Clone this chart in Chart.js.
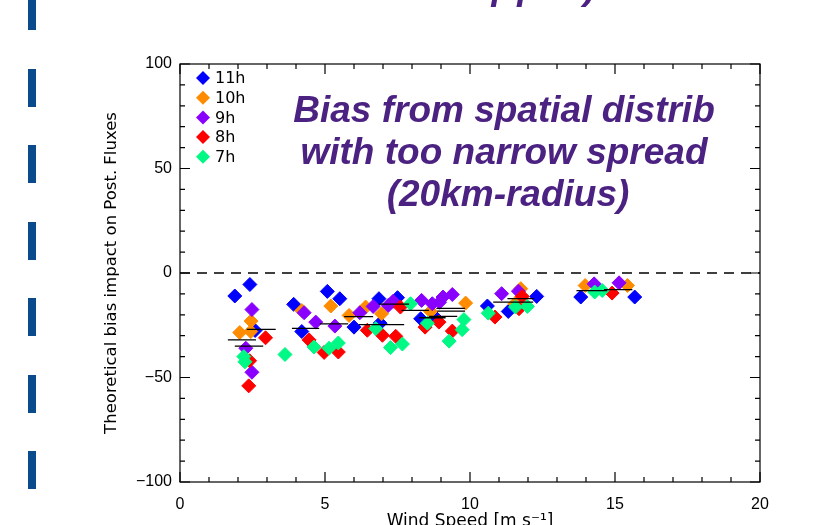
<!DOCTYPE html>
<html lang="en">
<head>
  <meta charset="UTF-8" />
  <title>Bias vs wind speed</title>
  <script src="https://cdn.jsdelivr.net/npm/chart.js"></script>
  <style>
    html, body { margin: 0; padding: 0; background: #fff; overflow: hidden; height: 525px; }
    #wrap { position: relative; width: 828px; height: 545px; }
    .bar { position: absolute; left: 28px; width: 8px; height: 38px; background: #0b4a8c; }
  </style>
</head>
<body>
  <div id="wrap">
    <canvas id="biasChart" width="828" height="545"></canvas>
  </div>

  <script>
    // hours of the day, one series each
    const seriesNames = ['11h', '10h', '9h', '8h', '7h'];
    const seriesColors = ['#0000ff', '#ff8c00', '#8a00ff', '#ff0000', '#00f884'];

    const x11 = [1.89, 2.41, 2.59, 3.92, 4.20, 5.08, 5.51, 6.00, 6.86, 6.90, 7.50, 8.30, 8.79, 10.60, 11.32, 12.30, 13.82, 15.68];
    const y11 = [-11, -5.5, -27.5, -15, -28, -8.8, -12.3, -25.9, -12.3, -24, -11.8, -21.9, -21, -15.8, -18.4, -11.2, -11.5, -11.5];

    const x10 = [2.06, 2.44, 2.45, 4.20, 5.20, 5.83, 6.40, 6.95, 8.64, 9.85, 11.55, 11.75, 13.97, 15.43];
    const y10 = [-28.5, -28, -23, -18, -15.8, -20.3, -16.3, -19.5, -18.4, -14.4, -14.7, -7.5, -6, -6];

    const x9 = [2.27, 2.48, 2.48, 4.28, 4.68, 5.34, 6.20, 6.66, 7.18, 7.35, 8.33, 8.70, 8.95, 9.07, 9.39, 11.09, 11.67, 14.28, 15.14];
    const y9 = [-36, -17.5, -47.5, -19, -23.5, -25.4, -19, -16, -15.5, -13.5, -13.1, -14.7, -14, -11.5, -10.3, -9.9, -8.7, -5.2, -4.7];

    const x8 = [2.37, 2.40, 2.95, 4.45, 4.97, 5.46, 6.46, 6.98, 7.44, 7.60, 8.45, 8.93, 9.39, 10.86, 11.69, 11.80, 14.90];
    const y8 = [-54, -42, -31, -32, -38, -37.8, -27.4, -29.8, -30.3, -16.3, -25.9, -23.5, -27.8, -21.1, -17.1, -11.2, -9.6];

    const x7 = [2.20, 2.24, 3.62, 4.62, 5.14, 5.46, 6.75, 7.26, 7.67, 7.95, 8.53, 9.28, 9.73, 9.79, 10.63, 11.57, 11.98, 14.30, 14.56];
    const y7 = [-40, -42.5, -39, -35.4, -36, -33.5, -26.6, -35.7, -34, -14.7, -24, -32.6, -27.1, -22.3, -19.2, -16.3, -16, -9.1, -8.4];

    // bin means (black horizontal bars)
    const meanX0 = [1.65, 1.89, 2.30, 3.86, 4.82, 5.66, 6.17, 6.86, 7.64, 8.24, 8.59, 8.84, 8.87, 10.80, 11.29, 13.67, 14.62];
    const meanX1 = [2.62, 2.87, 3.30, 4.80, 5.80, 6.66, 7.73, 7.90, 8.59, 9.16, 9.56, 9.83, 9.83, 12.18, 12.20, 14.73, 15.60];
    const meanY  = [-32, -35, -27, -26.5, -24.3, -20.9, -24.7, -14.9, -17.9, -21.4, -20.8, -16.9, -18.2, -13.9, -12.3, -8.4, -8];

    const xTicks = [0, 5, 10, 15, 20];
    const yTicks = [-100, -50, 0, 50, 100];

    const seriesX = [x11, x10, x9, x8, x7];
    const seriesY = [y11, y10, y9, y8, y7];

    const FONT = '"Liberation Sans", Arial, sans-serif';
    const WIDE = '"DejaVu Sans", sans-serif';

    // left slide decoration
    const wrap = document.getElementById('wrap');
    for (let i = 0; i < 7; i++) {
      const d = document.createElement('div');
      d.className = 'bar';
      d.style.top = (i * 76.5 - 8) + 'px';
      wrap.appendChild(d);
    }

    const pts = (xs, ys) => xs.map((x, i) => ({ x: x, y: ys[i] }));

    const meanPts = [];
    meanY.forEach((m, i) => {
      meanPts.push({ x: meanX0[i], y: m }, { x: meanX1[i], y: m }, { x: meanX1[i], y: null });
    });

    const datasets = [];
    datasets.push({
      type: 'line', label: 'means', data: meanPts, borderColor: '#000', borderWidth: 1.3,
      pointRadius: 0, spanGaps: false, order: 0
    });
    datasets.push({
      type: 'line', label: 'zero', data: [{ x: 0, y: 0 }, { x: 20, y: 0 }], borderColor: '#000',
      borderWidth: 1.4, borderDash: [10, 7], pointRadius: 0, order: 0
    });
    seriesNames.forEach((name, i) => {
      datasets.push({
        type: 'scatter', label: name, data: pts(seriesX[i], seriesY[i]),
        backgroundColor: seriesColors[i], borderColor: seriesColors[i], borderWidth: 1,
        pointStyle: 'rectRot', pointRadius: 7, order: 5 - i
      });
    });

    // frame, inward ticks, legend and annotation
    const decor = {
      id: 'decor',
      afterDraw(chart) {
        const { ctx, chartArea: a, scales } = chart;
        const xs = scales.x, ys = scales.y;
        ctx.save();
        ctx.strokeStyle = '#000';
        ctx.lineWidth = 1.2;
        ctx.strokeRect(a.left, a.top, a.right - a.left, a.bottom - a.top);
        ctx.beginPath();
        for (let v = 0; v <= 20; v++) {
          const len = xTicks.includes(v) ? 10 : 5;
          const px = xs.getPixelForValue(v);
          ctx.moveTo(px, a.bottom); ctx.lineTo(px, a.bottom - len);
          ctx.moveTo(px, a.top); ctx.lineTo(px, a.top + len);
        }
        for (let v = -100; v <= 100; v += 10) {
          const len = yTicks.includes(v) ? 10 : 5;
          const py = ys.getPixelForValue(v);
          ctx.moveTo(a.left, py); ctx.lineTo(a.left + len, py);
          ctx.moveTo(a.right, py); ctx.lineTo(a.right - len, py);
        }
        ctx.stroke();

        // legend
        ctx.font = '16px ' + WIDE;
        ctx.textBaseline = 'middle';
        ctx.textAlign = 'left';
        seriesNames.forEach((name, i) => {
          const cx = a.left + 23, cy = a.top + 14 + i * 19.7;
          ctx.fillStyle = seriesColors[i];
          ctx.beginPath();
          ctx.moveTo(cx, cy - 7); ctx.lineTo(cx + 7, cy); ctx.lineTo(cx, cy + 7); ctx.lineTo(cx - 7, cy);
          ctx.closePath();
          ctx.fill();
          ctx.fillStyle = '#000';
          ctx.fillText(name, cx + 12, cy + 1);
        });

        // annotation
        ctx.fillStyle = '#4b2181';
        ctx.font = 'bold italic 37px ' + FONT;
        ctx.textAlign = 'center';
        ctx.fillText('Bias from spatial distrib', 504, 112);
        ctx.fillText('with too narrow spread', 504, 154);
        ctx.fillText('(20km-radius)', 508, 196);

        // bottom of the slide title above
        ctx.textAlign = 'left';
        ctx.textBaseline = 'alphabetic';
        ctx.letterSpacing = '3px';
        ctx.fillText('upper)', 466, -1);
        ctx.restore();
      }
    };

    new Chart(document.getElementById('biasChart'), {
      type: 'scatter',
      data: { datasets: datasets },
      options: {
        responsive: false,
        animation: false,
        devicePixelRatio: 1,
        layout: { padding: { left: 90, right: 68, top: 64, bottom: 0 } },
        plugins: { legend: { display: false }, tooltip: { enabled: false } },
        scales: {
          x: {
            type: 'linear', min: 0, max: 20,
            afterFit: s => { s.height = 63; },
            ticks: { stepSize: 5, padding: 13, color: '#000', font: { family: FONT, size: 16 } },
            grid: { display: false, drawTicks: false },
            border: { display: false },
            title: { display: true, text: 'Wind Speed [m s\u207B\u00B9]', color: '#000',
                     font: { family: WIDE, size: 17 }, padding: { top: 0, bottom: 13 } }
          },
          y: {
            min: -100, max: 100,
            afterFit: s => { s.width = 90; },
            ticks: { stepSize: 50, padding: 8, color: '#000', font: { family: FONT, size: 16 },
                     callback: v => v < 0 ? '\u2212' + Math.abs(v) : String(v) },
            grid: { display: false, drawTicks: false },
            border: { display: false },
            title: { display: true, text: 'Theoretical bias impact on Post. Fluxes', color: '#000',
                     font: { family: WIDE, size: 16.5 }, padding: { top: 12, bottom: 0 } }
          }
        }
      },
      plugins: [decor]
    });
  </script>
</body>
</html>
